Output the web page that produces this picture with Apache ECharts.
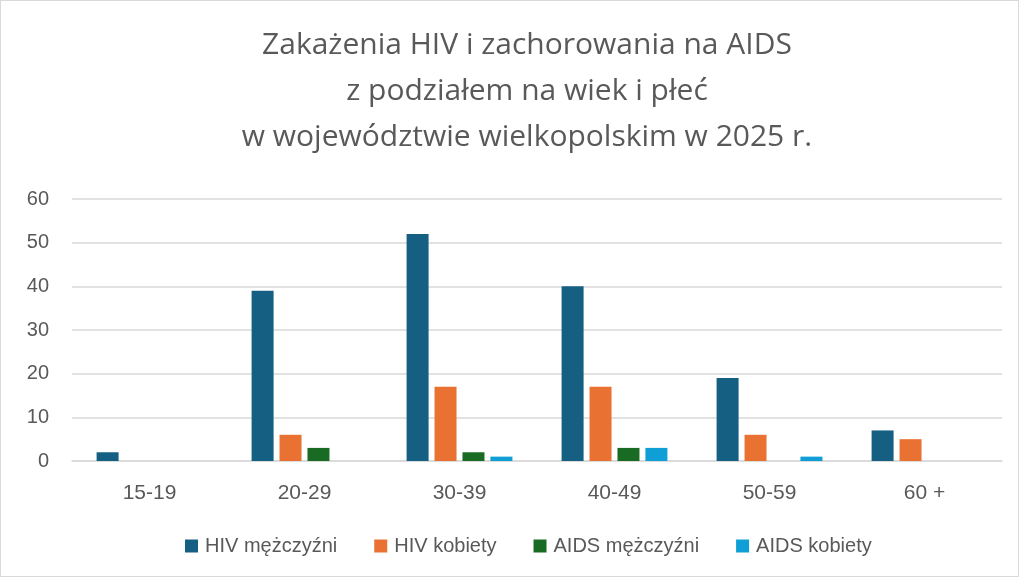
<!DOCTYPE html>
<html><head><meta charset="utf-8">
<script src="https://cdn.jsdelivr.net/npm/echarts@6/dist/echarts.min.js"></script>
<style>
html,body{margin:0;padding:0;background:#fff;}
#c{position:absolute;left:0;top:0;width:1017px;height:575px;border:1px solid #d9d9d9;}
</style></head>
<body><div id="c"></div>
<script>
const categories = ['15-19','20-29','30-39','40-49','50-59','60 +'];
const hivMen = [2,39,52,40,19,7];
const hivWomen = [0,6,17,17,6,5];
const aidsMen = [0,3,2,3,0,0];
const aidsWomen = [0,0,1,3,1,0];
const seriesNames = ['HIV mężczyźni','HIV kobiety','AIDS mężczyźni','AIDS kobiety'];
const colors = ['#156082','#E97132','#196B24','#0F9ED5'];
const titleText = 'Zakażenia HIV i zachorowania na AIDS\nz podziałem na wiek i płeć\nw województwie wielkopolskim w 2025 r.';

const chart = echarts.init(document.getElementById('c'));
const font = 'Liberation Sans, Arial, sans-serif';
const data = [hivMen, hivWomen, aidsMen, aidsWomen];
chart.setOption({
  animation:false,
  color: colors,
  title:{text:titleText,left:521,textAlign:'center',top:16,
    textStyle:{fontFamily:'Open Sans',fontSize:30,fontWeight:'normal',color:'#595959',lineHeight:46}},
  grid:{left:71,right:16,top:198,bottom:115},
  legend:{bottom:15,left:179,itemWidth:13,itemHeight:13,itemGap:37,icon:'rect',
    textStyle:{fontFamily:font,fontSize:20,color:'#595959',padding:[0,0,0,2]}},
  xAxis:{type:'category',data:categories,
    axisLine:{lineStyle:{color:'#d9d9d9',width:1.5}},axisTick:{show:false},
    axisLabel:{fontFamily:font,fontSize:21,color:'#595959',margin:22}},
  yAxis:{type:'value',min:0,max:60,interval:10,
    axisLine:{show:false},axisTick:{show:false},
    splitLine:{lineStyle:{color:'#d9d9d9',width:1.5}},
    axisLabel:{fontFamily:font,fontSize:20,color:'#595959',margin:23}},
  series: seriesNames.map((n,i)=>({name:n,type:'bar',data:data[i],barWidth:22,barGap:'27%'}))
});
</script></body></html>
